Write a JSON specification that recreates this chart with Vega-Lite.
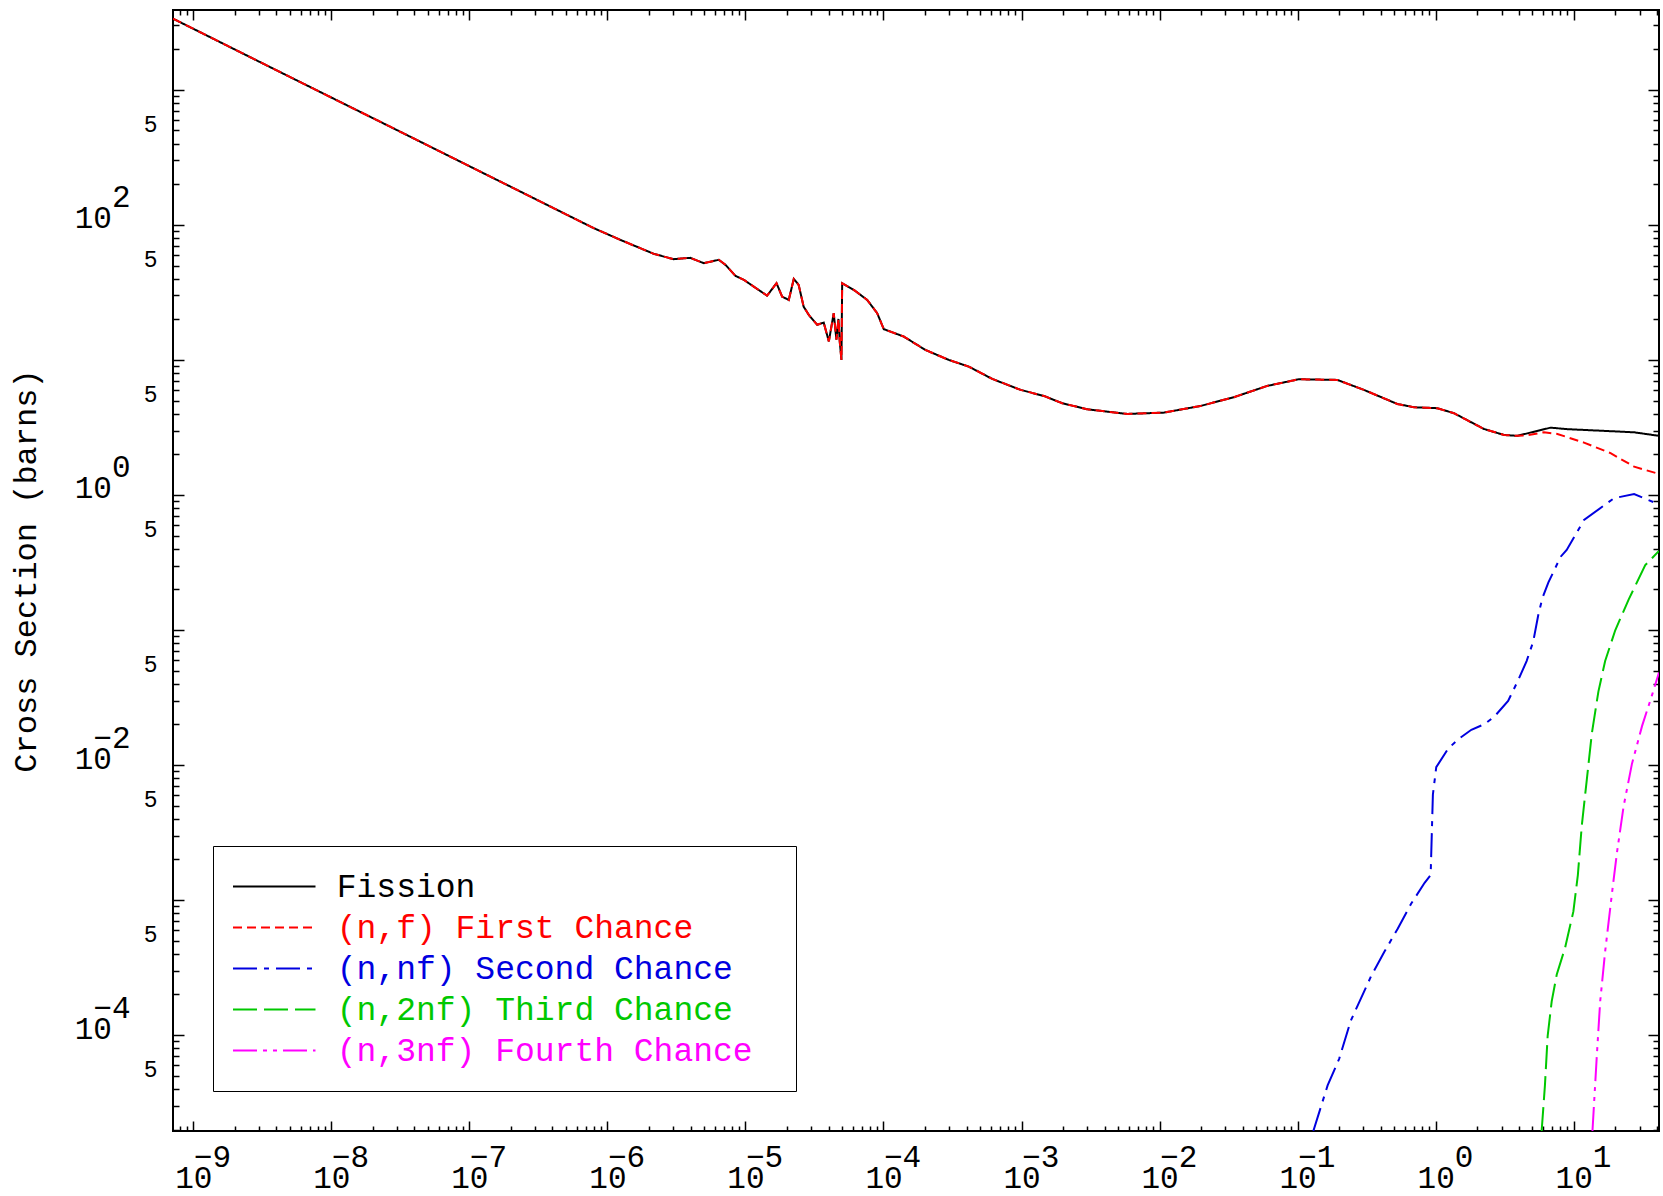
{
  "$schema": "https://vega.github.io/schema/vega-lite/v6.json",
  "width": 1486,
  "height": 1121,
  "autosize": {"type": "none"},
  "padding": {"left": 173, "top": 10, "right": 4, "bottom": 65},
  "background": "white",
  "config": {
    "view": {"stroke": "black", "strokeWidth": 2},
    "axis": {"grid": false, "domain": false, "tickColor": "black", "tickWidth": 1.5, "labelColor": "black", "titleColor": "black", "labelFont": "Liberation Mono", "titleFont": "Liberation Mono"}
  },
  "data": {"values": [
    {"s": "Fission", "e": 7.13e-10, "v": 3365},
    {"s": "Fission", "e": 3.162e-9, "v": 1574},
    {"s": "Fission", "e": 1e-8, "v": 877},
    {"s": "Fission", "e": 3.162e-8, "v": 489},
    {"s": "Fission", "e": 1e-7, "v": 272},
    {"s": "Fission", "e": 2.34e-7, "v": 176.5},
    {"s": "Fission", "e": 5.4e-7, "v": 115.2},
    {"s": "Fission", "e": 7.96e-7, "v": 94.6},
    {"s": "Fission", "e": 1.242e-6, "v": 77.4},
    {"s": "Fission", "e": 2.17e-6, "v": 61.0},
    {"s": "Fission", "e": 3.02e-6, "v": 55.7},
    {"s": "Fission", "e": 3.99e-6, "v": 57.0},
    {"s": "Fission", "e": 4.99e-6, "v": 52.0},
    {"s": "Fission", "e": 6.41e-6, "v": 55.1},
    {"s": "Fission", "e": 7.16e-6, "v": 50.6},
    {"s": "Fission", "e": 8.47e-6, "v": 41.9},
    {"s": "Fission", "e": 9.73e-6, "v": 39.2},
    {"s": "Fission", "e": 1.148e-5, "v": 34.9},
    {"s": "Fission", "e": 1.435e-5, "v": 29.9},
    {"s": "Fission", "e": 1.679e-5, "v": 37.0},
    {"s": "Fission", "e": 1.845e-5, "v": 29.4},
    {"s": "Fission", "e": 2.06e-5, "v": 27.8},
    {"s": "Fission", "e": 2.24e-5, "v": 39.8},
    {"s": "Fission", "e": 2.43e-5, "v": 35.9},
    {"s": "Fission", "e": 2.64e-5, "v": 24.8},
    {"s": "Fission", "e": 2.88e-5, "v": 21.5},
    {"s": "Fission", "e": 3.31e-5, "v": 18.2},
    {"s": "Fission", "e": 3.69e-5, "v": 18.9},
    {"s": "Fission", "e": 4.02e-5, "v": 13.7},
    {"s": "Fission", "e": 4.36e-5, "v": 22.2},
    {"s": "Fission", "e": 4.56e-5, "v": 14.1},
    {"s": "Fission", "e": 4.72e-5, "v": 20.1},
    {"s": "Fission", "e": 4.82e-5, "v": 13.7},
    {"s": "Fission", "e": 4.96e-5, "v": 10.0},
    {"s": "Fission", "e": 5.02e-5, "v": 37.0},
    {"s": "Fission", "e": 6.1e-5, "v": 33.0},
    {"s": "Fission", "e": 7.62e-5, "v": 27.8},
    {"s": "Fission", "e": 9.0e-5, "v": 22.2},
    {"s": "Fission", "e": 1.005e-4, "v": 16.9},
    {"s": "Fission", "e": 1.4e-4, "v": 14.9},
    {"s": "Fission", "e": 2.01e-4, "v": 11.86},
    {"s": "Fission", "e": 2.97e-4, "v": 10.0},
    {"s": "Fission", "e": 4.15e-4, "v": 8.92},
    {"s": "Fission", "e": 6.14e-4, "v": 7.23},
    {"s": "Fission", "e": 9.84e-4, "v": 6.0},
    {"s": "Fission", "e": 1.452e-3, "v": 5.41},
    {"s": "Fission", "e": 1.972e-3, "v": 4.78},
    {"s": "Fission", "e": 2.99e-3, "v": 4.31},
    {"s": "Fission", "e": 5.83e-3, "v": 3.98},
    {"s": "Fission", "e": 1.074e-2, "v": 4.07},
    {"s": "Fission", "e": 1.98e-2, "v": 4.56},
    {"s": "Fission", "e": 3.45e-2, "v": 5.29},
    {"s": "Fission", "e": 6.03e-2, "v": 6.42},
    {"s": "Fission", "e": 0.102, "v": 7.19},
    {"s": "Fission", "e": 0.194, "v": 7.11},
    {"s": "Fission", "e": 0.302, "v": 6.0},
    {"s": "Fission", "e": 0.527, "v": 4.72},
    {"s": "Fission", "e": 0.697, "v": 4.46},
    {"s": "Fission", "e": 1.028, "v": 4.39},
    {"s": "Fission", "e": 1.358, "v": 4.03},
    {"s": "Fission", "e": 2.24, "v": 3.08},
    {"s": "Fission", "e": 3.13, "v": 2.78},
    {"s": "Fission", "e": 3.91, "v": 2.74},
    {"s": "Fission", "e": 5.16, "v": 2.94},
    {"s": "Fission", "e": 6.81, "v": 3.15},
    {"s": "Fission", "e": 9.0, "v": 3.07},
    {"s": "Fission", "e": 15.7, "v": 2.99},
    {"s": "Fission", "e": 27.4, "v": 2.91},
    {"s": "Fission", "e": 41.5, "v": 2.74},

    {"s": "(n,f) First Chance", "e": 7.13e-10, "v": 3365},
    {"s": "(n,f) First Chance", "e": 3.162e-9, "v": 1574},
    {"s": "(n,f) First Chance", "e": 1e-8, "v": 877},
    {"s": "(n,f) First Chance", "e": 3.162e-8, "v": 489},
    {"s": "(n,f) First Chance", "e": 1e-7, "v": 272},
    {"s": "(n,f) First Chance", "e": 2.34e-7, "v": 176.5},
    {"s": "(n,f) First Chance", "e": 5.4e-7, "v": 115.2},
    {"s": "(n,f) First Chance", "e": 7.96e-7, "v": 94.6},
    {"s": "(n,f) First Chance", "e": 1.242e-6, "v": 77.4},
    {"s": "(n,f) First Chance", "e": 2.17e-6, "v": 61.0},
    {"s": "(n,f) First Chance", "e": 3.02e-6, "v": 55.7},
    {"s": "(n,f) First Chance", "e": 3.99e-6, "v": 57.0},
    {"s": "(n,f) First Chance", "e": 4.99e-6, "v": 52.0},
    {"s": "(n,f) First Chance", "e": 6.41e-6, "v": 55.1},
    {"s": "(n,f) First Chance", "e": 7.16e-6, "v": 50.6},
    {"s": "(n,f) First Chance", "e": 8.47e-6, "v": 41.9},
    {"s": "(n,f) First Chance", "e": 9.73e-6, "v": 39.2},
    {"s": "(n,f) First Chance", "e": 1.148e-5, "v": 34.9},
    {"s": "(n,f) First Chance", "e": 1.435e-5, "v": 29.9},
    {"s": "(n,f) First Chance", "e": 1.679e-5, "v": 37.0},
    {"s": "(n,f) First Chance", "e": 1.845e-5, "v": 29.4},
    {"s": "(n,f) First Chance", "e": 2.06e-5, "v": 27.8},
    {"s": "(n,f) First Chance", "e": 2.24e-5, "v": 39.8},
    {"s": "(n,f) First Chance", "e": 2.43e-5, "v": 35.9},
    {"s": "(n,f) First Chance", "e": 2.64e-5, "v": 24.8},
    {"s": "(n,f) First Chance", "e": 2.88e-5, "v": 21.5},
    {"s": "(n,f) First Chance", "e": 3.31e-5, "v": 18.2},
    {"s": "(n,f) First Chance", "e": 3.69e-5, "v": 18.9},
    {"s": "(n,f) First Chance", "e": 4.02e-5, "v": 13.7},
    {"s": "(n,f) First Chance", "e": 4.36e-5, "v": 22.2},
    {"s": "(n,f) First Chance", "e": 4.56e-5, "v": 14.1},
    {"s": "(n,f) First Chance", "e": 4.72e-5, "v": 20.1},
    {"s": "(n,f) First Chance", "e": 4.82e-5, "v": 13.7},
    {"s": "(n,f) First Chance", "e": 4.96e-5, "v": 10.0},
    {"s": "(n,f) First Chance", "e": 5.02e-5, "v": 37.0},
    {"s": "(n,f) First Chance", "e": 6.1e-5, "v": 33.0},
    {"s": "(n,f) First Chance", "e": 7.62e-5, "v": 27.8},
    {"s": "(n,f) First Chance", "e": 9.0e-5, "v": 22.2},
    {"s": "(n,f) First Chance", "e": 1.005e-4, "v": 16.9},
    {"s": "(n,f) First Chance", "e": 1.4e-4, "v": 14.9},
    {"s": "(n,f) First Chance", "e": 2.01e-4, "v": 11.86},
    {"s": "(n,f) First Chance", "e": 2.97e-4, "v": 10.0},
    {"s": "(n,f) First Chance", "e": 4.15e-4, "v": 8.92},
    {"s": "(n,f) First Chance", "e": 6.14e-4, "v": 7.23},
    {"s": "(n,f) First Chance", "e": 9.84e-4, "v": 6.0},
    {"s": "(n,f) First Chance", "e": 1.452e-3, "v": 5.41},
    {"s": "(n,f) First Chance", "e": 1.972e-3, "v": 4.78},
    {"s": "(n,f) First Chance", "e": 2.99e-3, "v": 4.31},
    {"s": "(n,f) First Chance", "e": 5.83e-3, "v": 3.98},
    {"s": "(n,f) First Chance", "e": 1.074e-2, "v": 4.07},
    {"s": "(n,f) First Chance", "e": 1.98e-2, "v": 4.56},
    {"s": "(n,f) First Chance", "e": 3.45e-2, "v": 5.29},
    {"s": "(n,f) First Chance", "e": 6.03e-2, "v": 6.42},
    {"s": "(n,f) First Chance", "e": 0.102, "v": 7.19},
    {"s": "(n,f) First Chance", "e": 0.194, "v": 7.11},
    {"s": "(n,f) First Chance", "e": 0.302, "v": 6.0},
    {"s": "(n,f) First Chance", "e": 0.527, "v": 4.72},
    {"s": "(n,f) First Chance", "e": 0.697, "v": 4.46},
    {"s": "(n,f) First Chance", "e": 1.028, "v": 4.39},
    {"s": "(n,f) First Chance", "e": 1.358, "v": 4.03},
    {"s": "(n,f) First Chance", "e": 2.24, "v": 3.08},
    {"s": "(n,f) First Chance", "e": 3.13, "v": 2.78},
    {"s": "(n,f) First Chance", "e": 3.91, "v": 2.74},
    {"s": "(n,f) First Chance", "e": 4.49, "v": 2.76},
    {"s": "(n,f) First Chance", "e": 6.09, "v": 2.91},
    {"s": "(n,f) First Chance", "e": 7.62, "v": 2.83},
    {"s": "(n,f) First Chance", "e": 11.88, "v": 2.44},
    {"s": "(n,f) First Chance", "e": 18.5, "v": 2.04},
    {"s": "(n,f) First Chance", "e": 27.4, "v": 1.62},
    {"s": "(n,f) First Chance", "e": 41.5, "v": 1.43},

    {"s": "(n,nf) Second Chance", "e": 0.13, "v": 1.95e-5},
    {"s": "(n,nf) Second Chance", "e": 0.165, "v": 4.24e-5},
    {"s": "(n,nf) Second Chance", "e": 0.2, "v": 6.68e-5},
    {"s": "(n,nf) Second Chance", "e": 0.243, "v": 1.282e-4},
    {"s": "(n,nf) Second Chance", "e": 0.34, "v": 2.72e-4},
    {"s": "(n,nf) Second Chance", "e": 0.426, "v": 4.16e-4},
    {"s": "(n,nf) Second Chance", "e": 0.531, "v": 6.14e-4},
    {"s": "(n,nf) Second Chance", "e": 0.664, "v": 9.39e-4},
    {"s": "(n,nf) Second Chance", "e": 0.832, "v": 1.343e-3},
    {"s": "(n,nf) Second Chance", "e": 0.92, "v": 1.531e-3},
    {"s": "(n,nf) Second Chance", "e": 0.955, "v": 6.03e-3},
    {"s": "(n,nf) Second Chance", "e": 1.01, "v": 9.64e-3},
    {"s": "(n,nf) Second Chance", "e": 1.228, "v": 1.316e-2},
    {"s": "(n,nf) Second Chance", "e": 1.452, "v": 1.549e-2},
    {"s": "(n,nf) Second Chance", "e": 1.814, "v": 1.824e-2},
    {"s": "(n,nf) Second Chance", "e": 2.265, "v": 2.01e-2},
    {"s": "(n,nf) Second Chance", "e": 2.68, "v": 2.3e-2},
    {"s": "(n,nf) Second Chance", "e": 3.35, "v": 2.98e-2},
    {"s": "(n,nf) Second Chance", "e": 3.97, "v": 4.27e-2},
    {"s": "(n,nf) Second Chance", "e": 4.56, "v": 5.89e-2},
    {"s": "(n,nf) Second Chance", "e": 5.09, "v": 8.18e-2},
    {"s": "(n,nf) Second Chance", "e": 5.54, "v": 0.129},
    {"s": "(n,nf) Second Chance", "e": 5.93, "v": 0.172},
    {"s": "(n,nf) Second Chance", "e": 6.56, "v": 0.225},
    {"s": "(n,nf) Second Chance", "e": 8.05, "v": 0.349},
    {"s": "(n,nf) Second Chance", "e": 8.9, "v": 0.391},
    {"s": "(n,nf) Second Chance", "e": 11.88, "v": 0.653},
    {"s": "(n,nf) Second Chance", "e": 19.6, "v": 0.946},
    {"s": "(n,nf) Second Chance", "e": 27.4, "v": 1.017},
    {"s": "(n,nf) Second Chance", "e": 41.5, "v": 0.85},

    {"s": "(n,2nf) Third Chance", "e": 5.86, "v": 1.95e-5},
    {"s": "(n,2nf) Third Chance", "e": 6.19, "v": 4.24e-5},
    {"s": "(n,2nf) Third Chance", "e": 6.48, "v": 9.89e-5},
    {"s": "(n,2nf) Third Chance", "e": 6.93, "v": 1.78e-4},
    {"s": "(n,2nf) Third Chance", "e": 7.54, "v": 2.81e-4},
    {"s": "(n,2nf) Third Chance", "e": 8.66, "v": 4.43e-4},
    {"s": "(n,2nf) Third Chance", "e": 9.95, "v": 8.24e-4},
    {"s": "(n,2nf) Third Chance", "e": 10.72, "v": 1.531e-3},
    {"s": "(n,2nf) Third Chance", "e": 11.45, "v": 3.57e-3},
    {"s": "(n,2nf) Third Chance", "e": 12.45, "v": 7.81e-3},
    {"s": "(n,2nf) Third Chance", "e": 13.53, "v": 1.709e-2},
    {"s": "(n,2nf) Third Chance", "e": 15.1, "v": 3.5e-2},
    {"s": "(n,2nf) Third Chance", "e": 16.9, "v": 5.89e-2},
    {"s": "(n,2nf) Third Chance", "e": 20.0, "v": 9.95e-2},
    {"s": "(n,2nf) Third Chance", "e": 25.0, "v": 0.168},
    {"s": "(n,2nf) Third Chance", "e": 33.0, "v": 0.302},
    {"s": "(n,2nf) Third Chance", "e": 41.5, "v": 0.385},

    {"s": "(n,3nf) Fourth Chance", "e": 13.68, "v": 1.95e-5},
    {"s": "(n,3nf) Fourth Chance", "e": 14.72, "v": 7.13e-5},
    {"s": "(n,3nf) Fourth Chance", "e": 15.56, "v": 1.78e-4},
    {"s": "(n,3nf) Fourth Chance", "e": 16.9, "v": 4.16e-4},
    {"s": "(n,3nf) Fourth Chance", "e": 18.9, "v": 1.104e-3},
    {"s": "(n,3nf) Fourth Chance", "e": 20.6, "v": 2.26e-3},
    {"s": "(n,3nf) Fourth Chance", "e": 23.0, "v": 4.95e-3},
    {"s": "(n,3nf) Fourth Chance", "e": 26.4, "v": 1.016e-2},
    {"s": "(n,3nf) Fourth Chance", "e": 31.3, "v": 1.95e-2},
    {"s": "(n,3nf) Fourth Chance", "e": 36.9, "v": 3.28e-2},
    {"s": "(n,3nf) Fourth Chance", "e": 41.5, "v": 4.85e-2}
  ]},
  "layer": [
    {
      "mark": {"type": "line", "opacity": 0, "clip": true},
      "encoding": {
        "x": {"field": "e", "type": "quantitative",
          "scale": {"type": "log", "domain": [7.13e-10, 41.5], "nice": false},
          "axis": {"orient": "top", "title": null, "labels": false,
            "values": [8e-10,9e-10,1e-9,2e-9,3e-9,4e-9,5e-9,6e-9,7e-9,8e-9,9e-9,1e-8,2e-8,3e-8,4e-8,5e-8,6e-8,7e-8,8e-8,9e-8,1e-7,2e-7,3e-7,4e-7,5e-7,6e-7,7e-7,8e-7,9e-7,1e-6,2e-6,3e-6,4e-6,5e-6,6e-6,7e-6,8e-6,9e-6,1e-5,2e-5,3e-5,4e-5,5e-5,6e-5,7e-5,8e-5,9e-5,1e-4,2e-4,3e-4,4e-4,5e-4,6e-4,7e-4,8e-4,9e-4,1e-3,2e-3,3e-3,4e-3,5e-3,6e-3,7e-3,8e-3,9e-3,1e-2,2e-2,3e-2,4e-2,5e-2,6e-2,7e-2,8e-2,9e-2,0.1,0.2,0.3,0.4,0.5,0.6,0.7,0.8,0.9,1,2,3,4,5,6,7,8,9,10,20,30,40],
            "tickSize": {"condition": {"test": "abs(log(datum.value)/LN10 - round(log(datum.value)/LN10)) < 0.0001", "value": -10}, "value": -5}}},
        "y": {"field": "v", "type": "quantitative",
          "scale": {"type": "log", "domain": [1.95e-5, 3900], "nice": false},
          "axis": {"orient": "right", "title": null, "labels": false,
            "values": [2e-5,3e-5,4e-5,5e-5,6e-5,7e-5,8e-5,9e-5,1e-4,2e-4,3e-4,4e-4,5e-4,6e-4,7e-4,8e-4,9e-4,1e-3,2e-3,3e-3,4e-3,5e-3,6e-3,7e-3,8e-3,9e-3,1e-2,2e-2,3e-2,4e-2,5e-2,6e-2,7e-2,8e-2,9e-2,0.1,0.2,0.3,0.4,0.5,0.6,0.7,0.8,0.9,1,2,3,4,5,6,7,8,9,10,20,30,40,50,60,70,80,90,100,200,300,400,500,600,700,800,900,1000,2000,3000],
            "tickSize": {"condition": {"test": "abs(log(datum.value)/LN10 - round(log(datum.value)/LN10)) < 0.0001", "value": -11}, "value": -6}}},
        "detail": {"field": "s", "type": "nominal"}
      }
    },
    {
      "mark": {"type": "line", "clip": true, "strokeWidth": 2},
      "encoding": {
        "x": {"field": "e", "type": "quantitative",
          "scale": {"type": "log", "domain": [7.13e-10, 41.5], "nice": false},
          "axis": {"orient": "bottom", "title": null,
            "values": [8e-10,9e-10,1e-9,2e-9,3e-9,4e-9,5e-9,6e-9,7e-9,8e-9,9e-9,1e-8,2e-8,3e-8,4e-8,5e-8,6e-8,7e-8,8e-8,9e-8,1e-7,2e-7,3e-7,4e-7,5e-7,6e-7,7e-7,8e-7,9e-7,1e-6,2e-6,3e-6,4e-6,5e-6,6e-6,7e-6,8e-6,9e-6,1e-5,2e-5,3e-5,4e-5,5e-5,6e-5,7e-5,8e-5,9e-5,1e-4,2e-4,3e-4,4e-4,5e-4,6e-4,7e-4,8e-4,9e-4,1e-3,2e-3,3e-3,4e-3,5e-3,6e-3,7e-3,8e-3,9e-3,1e-2,2e-2,3e-2,4e-2,5e-2,6e-2,7e-2,8e-2,9e-2,0.1,0.2,0.3,0.4,0.5,0.6,0.7,0.8,0.9,1,2,3,4,5,6,7,8,9,10,20,30,40],
            "tickSize": {"condition": {"test": "abs(log(datum.value)/LN10 - round(log(datum.value)/LN10)) < 0.0001", "value": -10}, "value": -5},
            "labelExpr": "abs(log(datum.value)/LN10 - round(log(datum.value)/LN10)) < 0.0001 ? (round(log(datum.value)/LN10) < 0 ? ['\u200b\u00a0\u2212' + abs(round(log(datum.value)/LN10)), '10'] : ['\u200b\u00a0\u00a0' + round(log(datum.value)/LN10), '10']) : ''",
            "labelAlign": "left", "labelBaseline": "top", "labelOffset": -18.6,
            "labelFontSize": 31, "labelLineHeight": 21, "labelPadding": 21,
            "labelOverlap": false, "labelBound": false, "labelFlush": false}},
        "y": {"field": "v", "type": "quantitative",
          "scale": {"type": "log", "domain": [1.95e-5, 3900], "nice": false},
          "axis": {"orient": "left", "title": "Cross Section (barns)",
            "titleFontSize": 32, "titleFontWeight": "normal", "titlePadding": 32,
            "values": [2e-5,3e-5,4e-5,5e-5,6e-5,7e-5,8e-5,9e-5,1e-4,2e-4,3e-4,4e-4,5e-4,6e-4,7e-4,8e-4,9e-4,1e-3,2e-3,3e-3,4e-3,5e-3,6e-3,7e-3,8e-3,9e-3,1e-2,2e-2,3e-2,4e-2,5e-2,6e-2,7e-2,8e-2,9e-2,0.1,0.2,0.3,0.4,0.5,0.6,0.7,0.8,0.9,1,2,3,4,5,6,7,8,9,10,20,30,40,50,60,70,80,90,100,200,300,400,500,600,700,800,900,1000,2000,3000],
            "tickSize": {"condition": {"test": "abs(log(datum.value)/LN10 - round(log(datum.value)/LN10)) < 0.0001", "value": -11}, "value": -6},
            "labelExpr": "abs(log(datum.value)/LN10 - round(log(datum.value)/LN10)) < 0.0001 ? (round(log(datum.value)/LN10) % 2 == 0 ? (round(log(datum.value)/LN10) < 0 ? ['\u2212' + abs(round(log(datum.value)/LN10)), '10\u00a0\u200b'] : ['' + round(log(datum.value)/LN10), '10\u00a0\u200b']) : '') : (abs(datum.value / pow(10, floor(log(datum.value)/LN10 + 0.000001)) - 5) < 0.001 ? '5' : '')",
            "labelAlign": "right",
            "labelBaseline": {"condition": {"test": "abs(log(datum.value)/LN10 - round(log(datum.value)/LN10)) < 0.0001", "value": "bottom"}, "value": "middle"},
            "labelFontSize": {"condition": {"test": "abs(log(datum.value)/LN10 - round(log(datum.value)/LN10)) < 0.0001", "value": 31}, "value": 23},
            "labelPadding": {"condition": {"test": "abs(log(datum.value)/LN10 - round(log(datum.value)/LN10)) < 0.0001", "value": 54}, "value": 22},
            "labelOffset": {"condition": {"test": "abs(log(datum.value)/LN10 - round(log(datum.value)/LN10)) < 0.0001", "value": -11}, "value": -6},
            "labelLineHeight": 21,
            "labelOverlap": false, "labelBound": false, "labelFlush": false}},
        "color": {"field": "s", "type": "nominal",
          "scale": {"domain": ["Fission", "(n,f) First Chance", "(n,nf) Second Chance", "(n,2nf) Third Chance", "(n,3nf) Fourth Chance"],
                    "range": ["#000000", "#ff0000", "#0000e0", "#00c800", "#ff00ff"]},
          "legend": {"title": null, "orient": "bottom-left", "offset": 40, "padding": 23,
            "strokeColor": "black", "fillColor": "white",
            "symbolType": "M-2.5,0H2.5", "symbolSize": 1089, "symbolStrokeWidth": 2, "symbolOffset": 20.75,
            "labelFont": "Liberation Mono", "labelFontSize": 33, "labelLimit": 1000, "labelOffset": 45, "rowPadding": 6,
            "labelExpr": "datum.label + '\u00a0\u200b'",
            "encode": {"labels": {"update": {"fill": {"scale": "color", "field": "value"}}}}}},
        "strokeDash": {"field": "s", "type": "nominal",
          "scale": {"domain": ["Fission", "(n,f) First Chance", "(n,nf) Second Chance", "(n,2nf) Third Chance", "(n,3nf) Fourth Chance"],
                    "range": [[1, 0], [9, 5], [24, 7, 5, 7], [24, 7], [24, 6, 4, 6, 4, 6]]},
          "legend": {"title": null, "orient": "bottom-left", "offset": 40, "padding": 23,
            "strokeColor": "black", "fillColor": "white",
            "symbolType": "M-2.5,0H2.5", "symbolSize": 1089, "symbolStrokeWidth": 2, "symbolOffset": 20.75,
            "labelFont": "Liberation Mono", "labelFontSize": 33, "labelLimit": 1000, "labelOffset": 45, "rowPadding": 6,
            "labelExpr": "datum.label + '\u00a0\u200b'",
            "encode": {"labels": {"update": {"fill": {"scale": "color", "field": "value"}}}}}}
      }
    }
  ],
  "resolve": {"axis": {"x": "independent", "y": "independent"}}
}
